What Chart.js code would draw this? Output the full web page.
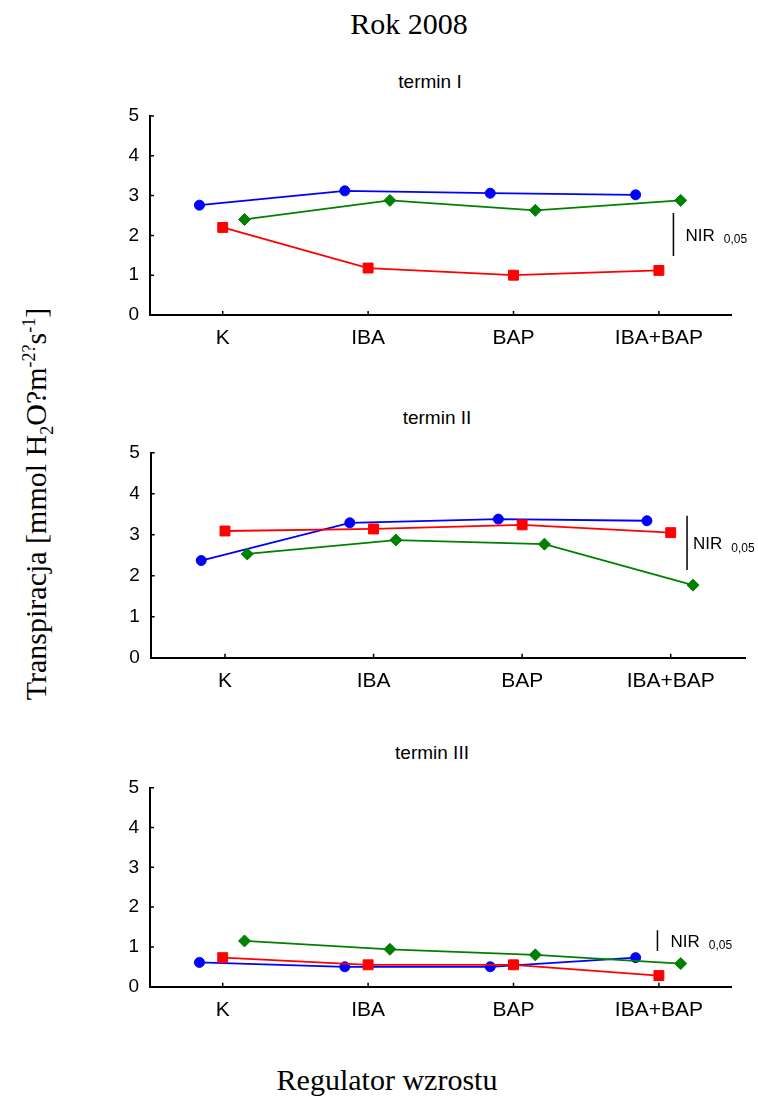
<!DOCTYPE html>
<html lang="pl">
<head>
<meta charset="utf-8">
<title>Rok 2008 - transpiracja</title>
<script src="https://cdn.jsdelivr.net/npm/chart.js@4.4.1/dist/chart.umd.min.js"></script>
<style>
  html, body { margin: 0; padding: 0; background: #fff; }
  #strona { position: relative; width: 758px; height: 1097px; overflow: hidden; background: #fff; }
  #strona canvas { position: absolute; left: 0; }
  .napis { position: absolute; white-space: nowrap; color: #000; }
  .serif { font-family: "Liberation Serif", "Times New Roman", serif; font-size: 30px; line-height: 30px; }
  .serif sub, .serif sup { font-size: 60%; line-height: 0; }
  .tytul { font-family: "Liberation Sans", Arial, sans-serif; font-size: 19px; line-height: 19px; transform: translateX(-50%); }
</style>
</head>
<body>
<div id="strona">
  <div class="napis serif" style="left:409px; top:9px; transform: translateX(-50%);">Rok 2008</div>
  <div class="napis serif" style="left:36px; top:504px; transform: translate(-50%,-50%) rotate(-90deg);">Transpiracja [mmol H<sub>2</sub>O?m<sup>-2?</sup>s<sup>-1</sup>]</div>
  <div class="napis serif" style="left:387px; top:1065px; transform: translateX(-50%);">Regulator wzrostu</div>
</div>
<script>
// Dane
const kategorie = ['K', 'IBA', 'BAP', 'IBA+BAP'];
const podzialkaY = [0, 1, 2, 3, 4, 5];

// termin I
const t1Niebieska = [2.76, 3.12, 3.06, 3.02];
const t1Czerwona = [2.20, 1.18, 1.00, 1.12];
const t1Zielona = [2.40, 2.88, 2.63, 2.88];
const t1Nir = [2.56, 1.48];

// termin II
const t2Niebieska = [2.37, 3.29, 3.38, 3.34];
const t2Czerwona = [3.09, 3.14, 3.24, 3.05];
const t2Zielona = [2.53, 2.87, 2.77, 1.77];
const t2Nir = [3.46, 2.14];

// termin III
const t3Niebieska = [0.61, 0.50, 0.50, 0.73];
const t3Czerwona = [0.73, 0.55, 0.55, 0.28];
const t3Zielona = [1.15, 0.94, 0.80, 0.58];
const t3Nir = [1.42, 0.90];

// Uklad paneli (piksele strony)
const panele = [
    { tytul: 'termin I', serie: [t1Niebieska, t1Czerwona, t1Zielona], nir: t1Nir, nirX: 3.10, nirOdstep: 12,
      obszar: { left: 150, right: 731.6, top: 116, bottom: 315 }, tytulX: 430, tytulGora: 71.6 },
    { tytul: 'termin II', serie: [t2Niebieska, t2Czerwona, t2Zielona], nir: t2Nir, nirX: 3.11, nirOdstep: 6,
      obszar: { left: 150.7, right: 745, top: 452.7, bottom: 657.7 }, tytulX: 437, tytulGora: 408.3 },
    { tytul: 'termin III', serie: [t3Niebieska, t3Czerwona, t3Zielona], nir: t3Nir, nirX: 2.99, nirOdstep: 13,
      obszar: { left: 150, right: 731.6, top: 787.7, bottom: 986.7 }, tytulX: 432, tytulGora: 743.3 }
];

// kolor, ksztalt punktu, promien, przesuniecie w poziomie, kolejnosc rysowania
const wygladSerii = [
    { kolor: '#0000ff', ksztalt: 'circle', promien: 5, przes: -0.16, order: 2 },
    { kolor: '#ff0000', ksztalt: 'rect', promien: 7, przes: 0, order: 1 },
    { kolor: '#008000', ksztalt: 'rectRot', promien: 6, przes: 0.15, order: 0 }
];

const czcionka = '"Liberation Sans", Arial, sans-serif';

// Krotkie kreski podzialki skierowane do srodka wykresu
const kreskiPlugin = {
    id: 'kreski',
    afterDraw(chart) {
        const { ctx, chartArea: a, scales: { x, y } } = chart;
        ctx.save();
        ctx.strokeStyle = '#000';
        ctx.lineWidth = 1.5;
        ctx.beginPath();
        y.ticks.forEach(t => {
            const py = y.getPixelForValue(t.value);
            ctx.moveTo(a.left, py);
            ctx.lineTo(a.left + 4, py);
        });
        x.ticks.forEach(t => {
            const px = x.getPixelForValue(t.value);
            ctx.moveTo(px, a.bottom);
            ctx.lineTo(px, a.bottom - 4);
        });
        ctx.stroke();
        ctx.restore();
    }
};

// Opis "NIR 0,05" obok pionowego odcinka
const nirPlugin = {
    id: 'nirOpis',
    afterDatasetsDraw(chart, args, opts) {
        chart.data.datasets.forEach((ds, i) => {
            if (!ds.nir) return;
            const pkt = chart.getDatasetMeta(i).data;
            const x = pkt[0].x + opts.odstep;
            const srodek = (pkt[0].y + pkt[1].y) / 2;
            const ctx = chart.ctx;
            ctx.save();
            ctx.fillStyle = '#000';
            ctx.textBaseline = 'alphabetic';
            ctx.font = '17px ' + czcionka;
            const baza = srodek + 6;
            ctx.fillText('NIR', x, baza);
            const w = ctx.measureText('NIR').width;
            ctx.font = '12px ' + czcionka;
            ctx.fillText('0,05', x + w + 9, baza + 2.6);
            ctx.restore();
        });
    }
};

const strona = document.getElementById('strona');

panele.forEach(p => {
    const a = p.obszar;
    const gora = Math.floor(a.top) - 24;
    const wys = Math.ceil(a.bottom) + 50 - gora;

    const tytul = document.createElement('div');
    tytul.className = 'napis tytul';
    tytul.style.left = p.tytulX + 'px';
    tytul.style.top = p.tytulGora + 'px';
    tytul.textContent = p.tytul;
    strona.appendChild(tytul);

    const c = document.createElement('canvas');
    c.width = 758;
    c.height = wys;
    c.style.top = gora + 'px';
    c.style.width = '758px';
    c.style.height = wys + 'px';
    strona.appendChild(c);

    const zbiory = p.serie.map((wartosci, k) => {
        const w = wygladSerii[k];
        return {
            label: 'Seria ' + (k + 1),
            data: wartosci.map((y, i) => ({ x: i + w.przes, y: y })),
            borderColor: w.kolor,
            backgroundColor: w.kolor,
            pointBackgroundColor: w.kolor,
            pointBorderColor: w.kolor,
            pointStyle: w.ksztalt,
            pointRadius: w.promien,
            pointBorderWidth: 1,
            borderWidth: 1.8,
            tension: 0,
            order: w.order
        };
    });
    zbiory.push({
        label: 'NIR 0,05',
        nir: true,
        data: p.nir.map(y => ({ x: p.nirX, y: y })),
        borderColor: '#000',
        borderWidth: 1.5,
        pointRadius: 0,
        order: 3
    });

    new Chart(c, {
        type: 'line',
        data: { datasets: zbiory },
        plugins: [kreskiPlugin, nirPlugin],
        options: {
            responsive: false,
            animation: false,
            devicePixelRatio: 1,
            events: [],
            layout: { padding: { top: a.top - gora, left: 0, right: 758 - a.right, bottom: 0 } },
            plugins: {
                legend: { display: false },
                tooltip: { enabled: false },
                nirOpis: { odstep: p.nirOdstep }
            },
            scales: {
                x: {
                    type: 'linear',
                    bounds: 'data',
                    min: -0.5,
                    max: 3.5,
                    grid: { display: false, drawTicks: false },
                    border: { display: true, color: '#000', width: 2 },
                    afterBuildTicks: s => { s.ticks = kategorie.map((_, i) => ({ value: i })); },
                    ticks: {
                        callback: v => kategorie[v],
                        color: '#000',
                        font: { family: czcionka, size: 21 },
                        padding: 11,
                        maxRotation: 0,
                        autoSkip: false
                    },
                    afterFit: s => { s.height = wys - (a.bottom - gora); s.paddingLeft = 0; s.paddingRight = 0; }
                },
                y: {
                    min: 0,
                    max: 5,
                    grid: { display: false, drawTicks: false },
                    border: { display: true, color: '#000', width: 2 },
                    afterBuildTicks: s => { s.ticks = podzialkaY.map(v => ({ value: v })); },
                    ticks: {
                        color: '#000',
                        font: { family: czcionka, size: 19 },
                        padding: 11
                    },
                    afterFit: s => { s.width = a.left; s.paddingTop = 0; s.paddingBottom = 0; }
                }
            }
        }
    });
});
</script>
</body>
</html>
